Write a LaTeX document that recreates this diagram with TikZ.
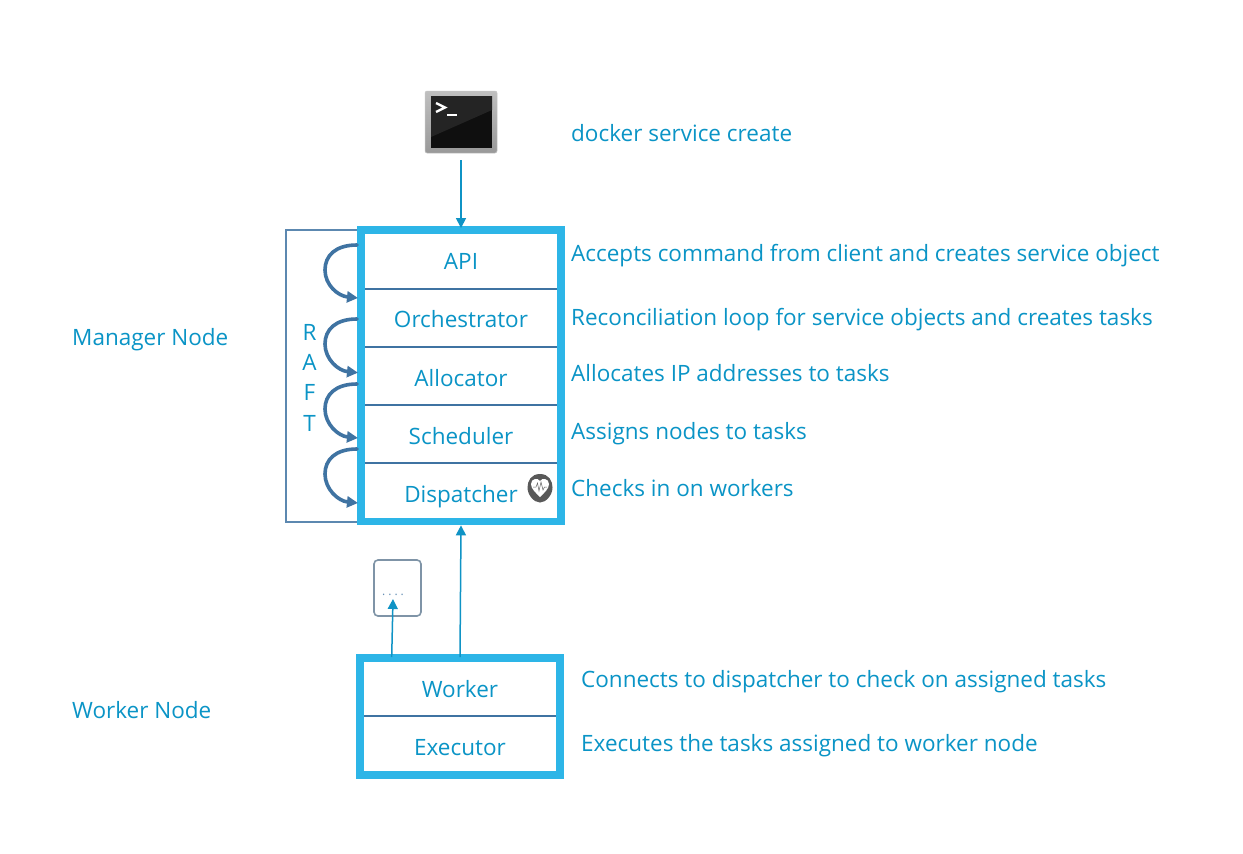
\documentclass[tikz,border=0pt]{standalone}
\usepackage{fontspec}
\setmainfont{Open Sans}
\usetikzlibrary{arrows.meta}
\definecolor{txt}{HTML}{0A94C6}
\definecolor{frame}{HTML}{2DB5E7}
\definecolor{steel}{HTML}{3F73A2}
\definecolor{arr}{HTML}{0F93C5}
\tikzset{
  x=1pt,y=-1pt,
  label/.style={font=\fontsize{22.5}{25}\selectfont,text=txt,anchor=base west,inner sep=0pt},
  layer/.style={font=\fontsize{22.5}{25}\selectfont,text=txt,anchor=base,inner sep=0pt},
  stack/.style={draw=frame,line width=7.8pt,fill=white,inner sep=0pt},
  divider/.style={draw=steel,line width=2pt},
  flow/.style={draw=arr,line width=1.5pt,-{Triangle[length=10pt,width=10pt]}},
  raftloop/.style={draw=steel,line width=3.6pt,line cap=round,-{Triangle[length=11pt,width=11pt]}},
}
\begin{document}
\begin{tikzpicture}
\useasboundingbox (0,0) rectangle (1243,854);
\fill[white] (0,0) rectangle (1243,854);

% RAFT frame
\draw[draw=steel!85,line width=1.7pt] (358,229.7) -- (285.7,229.7) -- (285.7,521.7) -- (358,521.7);

% terminal icon
\node[minimum width=72pt,minimum height=62pt,inner sep=0pt,rounded corners=2pt,
      top color=gray!50,bottom color=gray!80,draw=gray!45,line width=.5pt] (term) at (461,122) {};
\fill[black!94] (431,96) rectangle (492,148);
\fill[black!86] (431,96) -- (492,96) -- (492,110) -- (431,137) -- cycle;
\draw[white,line width=2.4pt] (436,103) -- (445,107.5) -- (436,112);
\draw[white,line width=2pt] (447,114.5) -- (457,114.5);

% manager stack
\node[stack,minimum width=200pt,minimum height=291.5pt] (mgr) at (461,375.7) {};
\draw[divider] (365,288.5) -- (557,288.5);
\draw[divider] (365,346.7) -- (557,346.7);
\draw[divider] (365,404.7) -- (557,404.7);
\draw[divider] (365,463.3) -- (557,463.3);
\node[layer] (api) at (461,269) {API};
\node[layer] (orch) at (461,327) {Orchestrator};
\node[layer] (alloc) at (461,386) {Allocator};
\node[layer] (sched) at (461,444) {Scheduler};
\node[layer] (disp) at (461,502) {Dispatcher};

% heartbeat icon
\fill[black!65] (540,474) .. controls (549,474) and (552.5,481) .. (552.5,487.5) .. controls (552.5,495) and (546,502.5) .. (540,502.5) .. controls (534,502.5) and (527.5,495) .. (527.5,487.5) .. controls (527.5,481) and (531,474) .. (540,474) -- cycle;
\fill[white] (540,497) .. controls (536,493) and (531,489) .. (531,484) .. controls (531,478.5) and (538,477.5) .. (540,481) .. controls (542,477.5) and (549,478.5) .. (549,484) .. controls (549,489) and (544,493) .. (540,497) -- cycle;
\draw[black!60,line width=.5pt] (533,487) -- (536,487) -- (537.5,483) -- (539,491) -- (541,482) -- (543,490) -- (544.5,487) -- (547,487);

% raft loops
\coordinate (a1) at (357,245);\coordinate (b1) at (358,298);
\coordinate (a2) at (357,319);\coordinate (b2) at (358,372.7);
\coordinate (a3) at (357,384);\coordinate (b3) at (358,438);
\coordinate (a4) at (357,449);\coordinate (b4) at (358,503);
\draw[raftloop] (a1) .. controls (335,245) and (325,256) .. (325,270) .. controls (325,285) and (338,296) .. (b1);
\draw[raftloop] (a2) .. controls (335,319) and (325,330) .. (325,344) .. controls (325,359) and (338,370.7) .. (b2);
\draw[raftloop] (a3) .. controls (335,384) and (325,395) .. (325,409) .. controls (325,424) and (338,436) .. (b3);
\draw[raftloop] (a4) .. controls (335,449) and (325,460) .. (325,474) .. controls (325,489) and (338,501) .. (b4);

% RAFT label
\node[layer] (r1) at (309.5,340) {R};
\node[layer] (r2) at (309.5,370) {A};
\node[layer] (r3) at (309.5,400) {F};
\node[layer] (r4) at (309.5,431) {T};

% worker stack
\node[stack,minimum width=200pt,minimum height=117pt] (wkr) at (460,716.5) {};
\draw[divider] (364,716) -- (556,716);
\node[layer] (worker) at (460,697) {Worker};
\node[layer] (exec) at (460,755) {Executor};

% dots box
\node[draw=steel!50!gray!80,line width=1.6pt,rounded corners=4pt,minimum width=47pt,minimum height=56pt,inner sep=0pt] (dots) at (397.5,588) {};
\node[inner sep=0pt,text=steel!80,font=\fontsize{12}{12}\selectfont,anchor=base] (dotstext) at (393,595) {.\hspace{3pt}.\hspace{3pt}.\hspace{3pt}.};

% connectors
\draw[flow,shorten <=7pt,shorten >=-2pt] (term.south) -- (mgr.north);
\coordinate (wa) at (460,657);
\coordinate (wb) at (391.7,657);
\coordinate (da) at (393,599);
\draw[flow] (wa) -- (mgr.south);
\draw[flow] (wb) -- (da);

% labels
\node[label] (l0) at (571,141) {docker service create};
\node[label] (l1) at (571,261) {Accepts command from client and creates service object};
\node[label] (l2) at (571,325) {Reconciliation loop for service objects and creates tasks};
\node[label] (l3) at (571,381) {Allocates IP addresses to tasks};
\node[label] (l4) at (571,439) {Assigns nodes to tasks};
\node[label] (l5) at (571,496) {Checks in on workers};
\node[label] (l6) at (581,687) {Connects to dispatcher to check on assigned tasks};
\node[label] (l7) at (581,751) {Executes the tasks assigned to worker node};
\node[label] (m) at (72,345) {Manager Node};
\node[label] (w) at (72,718) {Worker Node};
\end{tikzpicture}
\end{document}
